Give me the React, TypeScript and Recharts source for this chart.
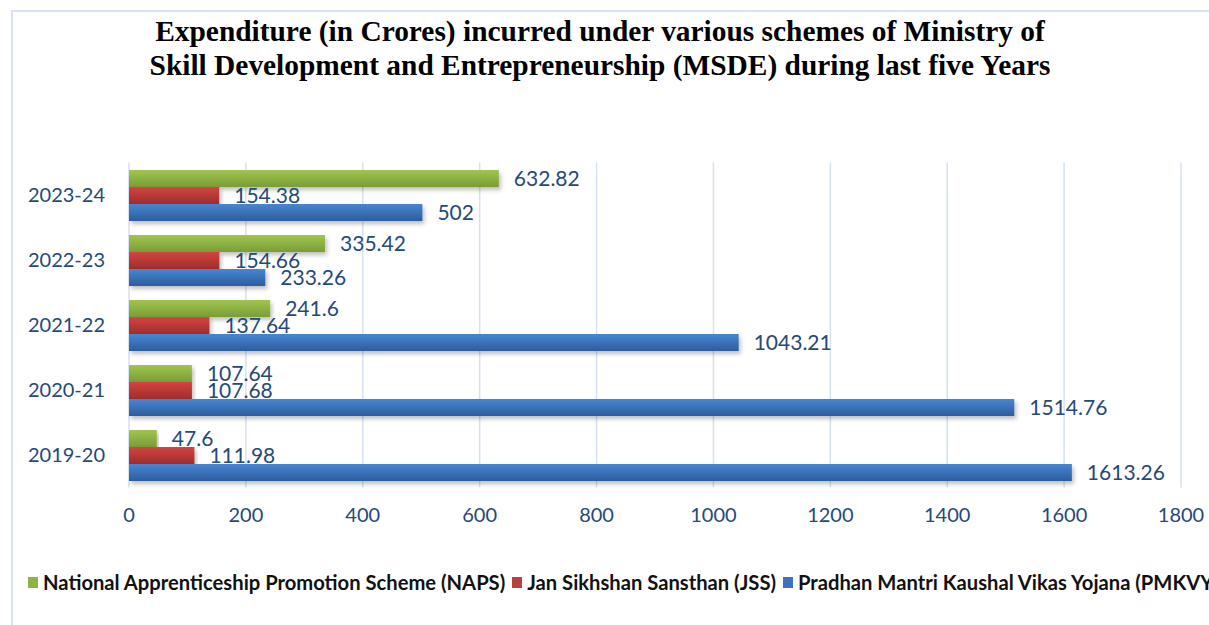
import React from "react";
import { BarChart, Bar, XAxis, YAxis, CartesianGrid, LabelList } from "recharts";

const years = ["2019-20", "2020-21", "2021-22", "2022-23", "2023-24"];
const naps = [47.6, 107.64, 241.6, 335.42, 632.82];
const jss = [111.98, 107.68, 137.64, 154.66, 154.38];
const pmkvy = [1613.26, 1514.76, 1043.21, 233.26, 502];
const xTicks = [0, 200, 400, 600, 800, 1000, 1200, 1400, 1600, 1800];

const seriesNames = {
  naps: "National Apprenticeship Promotion Scheme (NAPS)",
  jss: "Jan Sikhshan Sansthan (JSS)",
  pmkvy: "Pradhan Mantri Kaushal Vikas Yojana (PMKVY)",
};

const data = years.map((y, i) => ({ year: y, naps: naps[i], jss: jss[i], pmkvy: pmkvy[i] }));

const textBlue = "#24497A";
const FONT = "Lato, 'Open Sans', sans-serif";

const legendItems = [
  { key: "naps", color: "#8DB245" },
  { key: "jss", color: "#B8403D" },
  { key: "pmkvy", color: "#3D72BC" },
];

const LegendContent = () => (
  <div style={{ display: "flex", whiteSpace: "nowrap", alignItems: "center", fontFamily: FONT, fontWeight: 700, fontSize: 20.2, color: "#111" }}>
    {legendItems.map((it) => (
      <span key={it.key} style={{ display: "inline-flex", alignItems: "center", marginRight: 7 }}>
        <span style={{ display: "inline-block", width: 10, height: 11, background: it.color, marginRight: 5 }} />
        {seriesNames[it.key as keyof typeof seriesNames]}
      </span>
    ))}
  </div>
);

export default function App() {
  return (
    <div style={{ position: "absolute", left: 0, top: 0, width: 1209, height: 625, overflow: "hidden", background: "#fff" }}>
      <div style={{ position: "absolute", left: 11, top: 10, width: 1400, height: 800, border: "2px solid #D8E2F1" }} />
      <div
        style={{
          position: "absolute",
          left: 0,
          top: 14,
          width: 1200,
          textAlign: "center",
          fontFamily: "'Liberation Serif', 'Times New Roman', serif",
          fontWeight: 700,
          fontSize: 29.4,
          lineHeight: "34px",
          color: "#000",
        }}
      >
        Expenditure (in Crores) incurred under various schemes of Ministry of
        <br />
        Skill Development and Entrepreneurship (MSDE) during last five Years
      </div>
      <div style={{ position: "absolute", left: 0, top: 0 }}>
        <BarChart
          width={1209}
          height={625}
          data={data}
          layout="vertical"
          margin={{ top: 162.5, right: 28, bottom: 97.5, left: 0 }}
          barCategoryGap={7.5}
          barGap={0}
        >
          <defs>
            <linearGradient id="gGreen" x1="0" y1="0" x2="0" y2="1">
              <stop offset="0%" stopColor="#A0C64E" />
              <stop offset="100%" stopColor="#7A9C38" />
            </linearGradient>
            <linearGradient id="gRed" x1="0" y1="0" x2="0" y2="1">
              <stop offset="0%" stopColor="#D34442" />
              <stop offset="100%" stopColor="#9E2D2B" />
            </linearGradient>
            <linearGradient id="gBlue" x1="0" y1="0" x2="0" y2="1">
              <stop offset="0%" stopColor="#4886D2" />
              <stop offset="100%" stopColor="#2D5D9C" />
            </linearGradient>
            <filter id="shadow" x="-5%" y="-30%" width="110%" height="180%">
              <feDropShadow dx="2" dy="3" stdDeviation="2" floodColor="#000" floodOpacity="0.25" />
            </filter>
          </defs>
          <CartesianGrid horizontal={false} stroke="#D6E2F1" strokeWidth={1.5} />
          <XAxis
            type="number"
            domain={[0, 1800]}
            ticks={xTicks}
            axisLine={false}
            tickLine={false}
            tickMargin={14}
            height={40}
            tick={{ fill: textBlue, fontSize: 20, fontFamily: FONT }}
          />
          <YAxis
            type="category"
            dataKey="year"
            reversed
            width={129}
            axisLine={false}
            tickLine={false}
            tickMargin={18}
            tick={{ fill: textBlue, fontSize: 20, fontFamily: FONT }}
          />
          <Bar dataKey="naps" name={seriesNames.naps} fill="url(#gGreen)" filter="url(#shadow)" isAnimationActive={false}>
            <LabelList dataKey="naps" position="right" offset={15} fill={textBlue} fontSize={21} fontFamily={FONT} />
          </Bar>
          <Bar dataKey="jss" name={seriesNames.jss} fill="url(#gRed)" filter="url(#shadow)" isAnimationActive={false}>
            <LabelList dataKey="jss" position="right" offset={15} fill={textBlue} fontSize={21} fontFamily={FONT} />
          </Bar>
          <Bar dataKey="pmkvy" name={seriesNames.pmkvy} fill="url(#gBlue)" filter="url(#shadow)" isAnimationActive={false}>
            <LabelList dataKey="pmkvy" position="right" offset={15} fill={textBlue} fontSize={21} fontFamily={FONT} />
          </Bar>
        </BarChart>
      </div>
      <div style={{ position: "absolute", left: 28, top: 570, width: 1400 }}>
        <LegendContent />
      </div>
    </div>
  );
}
